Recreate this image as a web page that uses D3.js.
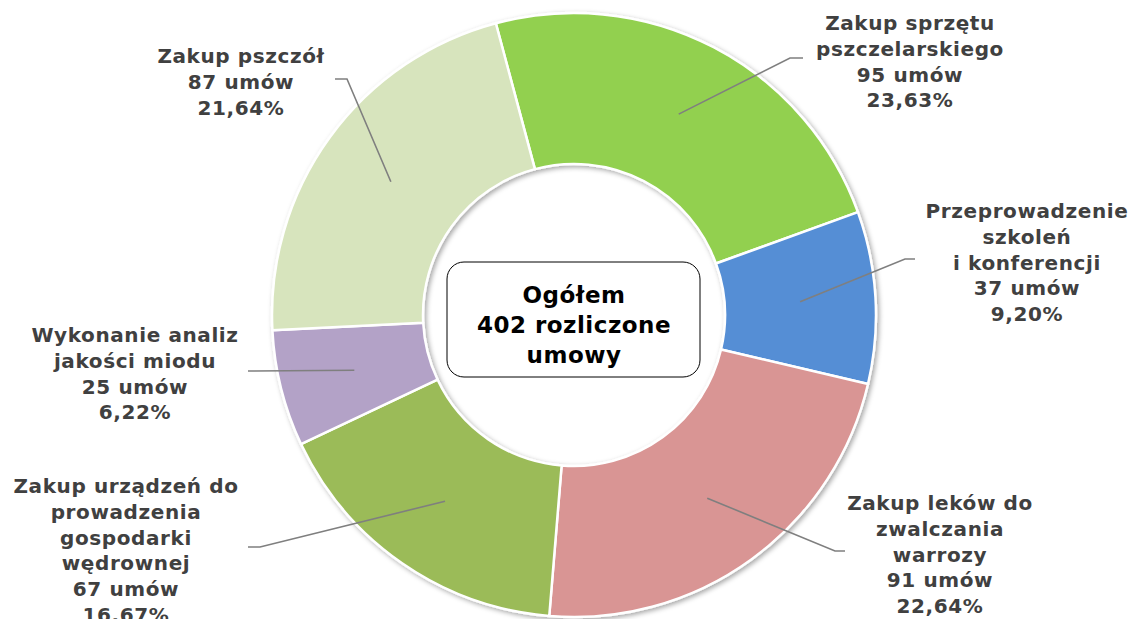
<!DOCTYPE html>
<html>
<head>
<meta charset="utf-8">
<script src="https://cdn.jsdelivr.net/npm/d3@7"></script>
<style>
  html, body { margin: 0; padding: 0; background: #fff; }
  svg { display: block; font-family: "DejaVu Sans", Verdana, sans-serif; }
</style>
</head>
<body>
<svg id="chart" width="1132" height="619"></svg>
<script>
'use strict';

// data
const categories = [
    ['Zakup sprzętu', 'pszczelarskiego'],
    ['Przeprowadzenie', 'szkoleń', 'i konferencji'],
    ['Zakup leków do', 'zwalczania', 'warrozy'],
    ['Zakup urządzeń do', 'prowadzenia', 'gospodarki', 'wędrownej'],
    ['Wykonanie analiz', 'jakości miodu'],
    ['Zakup pszczół']
];
const values = [95, 37, 91, 67, 25, 87];
const percentLabels = ['23,63%', '9,20%', '22,64%', '16.67%', '6,22%', '21,64%'];
const centerLines = ['Ogółem', '402 rozliczone', 'umowy'];

const colors = ['#92d050', '#558ed5', '#d99594', '#9bbb59', '#b3a2c7', '#d7e4bd'];

// label layout: text centre x, first line y, elbow point, line end
const labelLayout = [
    { tx: 910, ty: 30, elbow: [790, 58], end: [803, 58] },
    { tx: 1027, ty: 218, elbow: [905, 259], end: [915, 259] },
    { tx: 940, ty: 510, elbow: [835, 551], end: [845, 551] },
    { tx: 126, ty: 493, elbow: [260, 547], end: [248, 547] },
    { tx: 135, ty: 342, elbow: [250, 371], end: [248, 371] },
    { tx: 241, ty: 63, elbow: [347, 79], end: [335, 79] }
];

const cx = 574, cy = 315;
const outerR = 302, innerR = 151;
const lineH = 25.8;

const svg = d3.select('#chart');

const defs = svg.append('defs');
const shadow = defs.append('filter')
    .attr('id', 'shadow')
    .attr('x', '-10%').attr('y', '-10%')
    .attr('width', '120%').attr('height', '120%');
shadow.append('feDropShadow')
    .attr('dx', 2).attr('dy', 2)
    .attr('stdDeviation', 2.5)
    .attr('flood-color', '#000')
    .attr('flood-opacity', 0.35);

const pie = d3.pie()
    .sort(null)
    .startAngle(-15 * Math.PI / 180)
    .endAngle(-15 * Math.PI / 180 + 2 * Math.PI);

const arc = d3.arc()
    .innerRadius(innerR)
    .outerRadius(outerR);

const arcs = pie(values);

const g = svg.append('g')
    .attr('transform', `translate(${cx},${cy})`);

g.append('g')
    .attr('filter', 'url(#shadow)')
    .selectAll('path')
    .data(arcs)
    .join('path')
        .attr('d', arc)
        .attr('fill', (d, i) => colors[i])
        .attr('stroke', '#fff')
        .attr('stroke-width', 2.5)
        .attr('stroke-linejoin', 'round');

// leader lines
svg.append('g')
    .selectAll('polyline')
    .data(arcs)
    .join('polyline')
        .attr('points', (d, i) => {
            const c = arc.centroid(d);
            const L = labelLayout[i];
            return [[cx + c[0], cy + c[1]], L.elbow, L.end].map(p => p.join(',')).join(' ');
        })
        .attr('fill', 'none')
        .attr('stroke', '#7f7f7f')
        .attr('stroke-width', 1.6);

// labels
const labels = svg.append('g')
    .selectAll('text')
    .data(arcs)
    .join('text')
        .attr('text-anchor', 'middle')
        .attr('font-size', 20)
        .attr('letter-spacing', 0.6)
        .attr('font-weight', 'bold')
        .attr('fill', '#404040')
        .attr('x', (d, i) => labelLayout[i].tx)
        .attr('y', (d, i) => labelLayout[i].ty);

labels.each(function (d, i) {
    const lines = categories[i].concat([values[i] + ' umów', percentLabels[i]]);
    d3.select(this).selectAll('tspan')
        .data(lines)
        .join('tspan')
            .attr('x', labelLayout[i].tx)
            .attr('dy', (t, j) => j === 0 ? 0 : lineH)
            .text(t => t);
});

// centre box
svg.append('rect')
    .attr('x', 447).attr('y', 262)
    .attr('width', 253).attr('height', 115)
    .attr('rx', 17).attr('ry', 17)
    .attr('fill', '#fff')
    .attr('stroke', '#000')
    .attr('stroke-width', 1);

svg.append('text')
    .attr('text-anchor', 'middle')
    .attr('font-size', 23)
    .attr('letter-spacing', 0.5)
    .attr('font-weight', 'bold')
    .attr('fill', '#000')
    .selectAll('tspan')
    .data(centerLines)
    .join('tspan')
        .attr('x', 574)
        .attr('y', (t, j) => 303 + j * 30)
        .text(t => t);
</script>
</body>
</html>
